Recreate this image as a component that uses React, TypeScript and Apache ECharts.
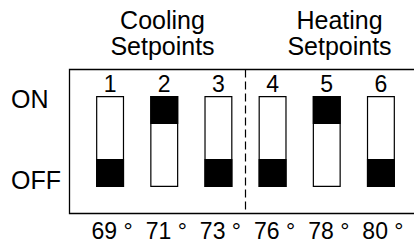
import React, { useEffect, useRef } from "react";
import * as echarts from "echarts";

const switchLabels = ["1", "2", "3", "4", "5", "6"];
const switchStates = ["OFF", "ON", "OFF", "OFF", "ON", "OFF"];
const tempLabels = ["69 °", "71 °", "73 °", "76 °", "78 °", "80 °"];
const groupTitles = [
  ["Cooling", "Setpoints"],
  ["Heating", "Setpoints"],
];
const stateLabels = ["ON", "OFF"];

const SLOT = 3.25; // switch body height in knob units
const KNOB = 1;

const FONT = "'Liberation Sans', Arial, Helvetica, sans-serif";

function titleText(text: string, x: number, y: number) {
  return {
    type: "text",
    x,
    y,
    style: {
      text,
      fontSize: 25,
      lineHeight: 22,
      fontFamily: FONT,
      fill: "#000",
      align: "center",
      verticalAlign: "middle",
    },
  };
}

export default function App() {
  const ref = useRef<HTMLDivElement>(null);
  useEffect(() => {
    if (!ref.current) return;
    const chart = echarts.init(ref.current, null, { renderer: "svg" });
    const frame = switchLabels.map(() => SLOT);
    const offset = switchStates.map((s) => (s === "ON" ? SLOT - KNOB : 0));
    const knob = switchStates.map(() => KNOB);
    chart.setOption({
      animation: false,
      backgroundColor: "#fff",
      textStyle: { fontFamily: FONT, color: "#000" },
      grid: [
        { left: 83, width: 325, top: 96, height: 91 },
        { left: 85, width: 325, top: 96, height: 91 },
      ],
      xAxis: [
        {
          type: "category",
          gridIndex: 0,
          position: "top",
          data: switchLabels,
          axisLine: { show: false },
          axisTick: { show: false },
          axisLabel: {
            margin: 12,
            verticalAlign: "middle",
            fontSize: 23,
            color: "#000",
            fontFamily: FONT,
          },
        },
        {
          type: "category",
          gridIndex: 1,
          position: "bottom",
          data: tempLabels,
          axisLine: { show: false },
          axisTick: { show: false },
          axisLabel: {
            margin: 44,
            verticalAlign: "middle",
            fontSize: 23,
            color: "#000",
            fontFamily: FONT,
          },
        },
      ],
      yAxis: [
        { type: "value", gridIndex: 0, min: 0, max: SLOT, show: false },
        { type: "value", gridIndex: 1, min: 0, max: SLOT, show: false },
      ],
      series: [
        {
          type: "bar",
          name: "body",
          xAxisIndex: 0,
          yAxisIndex: 0,
          data: frame,
          barWidth: 28,
          barGap: "-100%",
          itemStyle: { color: "#fff", borderColor: "#000", borderWidth: 1.2 },
          silent: true,
        },
        {
          type: "bar",
          name: "offset",
          stack: "sw",
          xAxisIndex: 0,
          yAxisIndex: 0,
          data: offset,
          barWidth: 28,
          barGap: "-100%",
          itemStyle: { color: "rgba(0,0,0,0)" },
          silent: true,
        },
        {
          type: "bar",
          name: "knob",
          stack: "sw",
          xAxisIndex: 0,
          yAxisIndex: 0,
          data: knob,
          barWidth: 28,
          barGap: "-100%",
          itemStyle: { color: "#000" },
          silent: true,
        },
      ],
      graphic: [
        {
          type: "polyline",
          shape: {
            points: [
              [430, 69.5],
              [69.5, 69.5],
              [69.5, 213.5],
              [430, 213.5],
            ],
          },
          style: { stroke: "#000", lineWidth: 1.3, fill: "none" },
        },
        {
          type: "line",
          shape: { x1: 245.5, y1: 69.5, x2: 245.5, y2: 213.5 },
          style: { stroke: "#000", lineWidth: 1.2, lineDash: [8, 4] },
        },
        titleText(groupTitles[0][0], 162.5, 20),
        titleText(groupTitles[0][1], 162.5, 45.5),
        titleText(groupTitles[1][0], 339.5, 20),
        titleText(groupTitles[1][1], 339.5, 45.5),
        {
          type: "text",
          x: 11,
          y: 99,
          style: {
            text: stateLabels[0],
            fontSize: 25,
            fontFamily: FONT,
            fill: "#000",
            align: "left",
            verticalAlign: "middle",
          },
        },
        {
          type: "text",
          x: 11,
          y: 180,
          style: {
            text: stateLabels[1],
            fontSize: 25,
            fontFamily: FONT,
            fill: "#000",
            align: "left",
            verticalAlign: "middle",
          },
        },
      ],
    });
    return () => chart.dispose();
  }, []);
  return <div ref={ref} style={{ width: 414, height: 244, position: "fixed", left: 0, top: 0 }} />;
}
